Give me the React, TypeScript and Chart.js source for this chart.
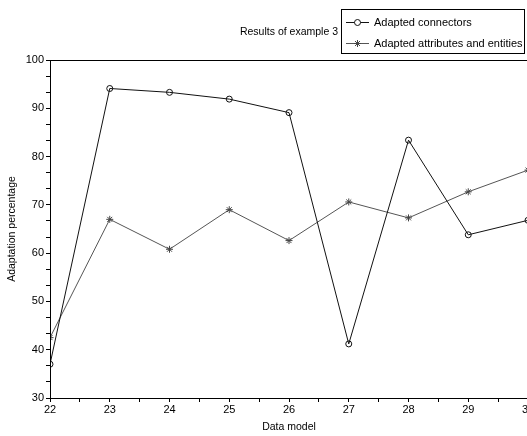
import React, { useEffect, useRef } from "react";
import { Chart, registerables } from "chart.js";

Chart.register(...registerables);

const chartTitle = "Results of example 3";
const xTitle = "Data model";
const yTitle = "Adaptation percentage";
const dataModels = [22, 23, 24, 25, 26, 27, 28, 29, 30];
const connectorsLabel = "Adapted connectors";
const connectors = [37.0, 94.1, 93.3, 91.9, 89.1, 41.2, 83.4, 63.8, 66.8];
const attributesLabel = "Adapted attributes and entities";
const attributes = [42.5, 67.0, 60.8, 69.0, 62.6, 70.6, 67.3, 72.7, 77.2];

const FONT = "'Liberation Sans', Arial, sans-serif";

const framePlugin = {
  id: "frameAndLegend",
  afterDraw(chart: any) {
    const ctx = chart.ctx;
    const a = chart.chartArea;
    ctx.save();
    ctx.strokeStyle = "#000";
    ctx.lineWidth = 1;
    ctx.strokeRect(Math.round(a.left) + 0.5, Math.round(a.top) + 0.5, Math.round(a.right - a.left), Math.round(a.bottom - a.top));

    // title
    ctx.fillStyle = "#000";
    ctx.font = "10.5px " + FONT;
    ctx.textAlign = "right";
    ctx.textBaseline = "middle";
    ctx.fillText(chartTitle, 338, 32);

    // legend box
    ctx.strokeRect(341.5, 9.5, 183, 44);
    const rows = [22, 43];
    chart.data.datasets.forEach((ds: any, i: number) => {
      const y = rows[i];
      ctx.strokeStyle = ds.borderColor;
      ctx.lineWidth = 1;
      ctx.beginPath();
      ctx.moveTo(346, y + 0.5);
      ctx.lineTo(369, y + 0.5);
      ctx.stroke();
      if (ds.pointStyle === "circle") {
        ctx.beginPath();
        ctx.arc(357.5, y + 0.5, 3, 0, Math.PI * 2);
        ctx.fillStyle = "#fff";
        ctx.fill();
        ctx.strokeStyle = ds.pointBorderColor;
        ctx.stroke();
      } else {
        const r = 3.5;
        ctx.strokeStyle = ds.pointBorderColor;
        ctx.beginPath();
        for (let k = 0; k < 4; k++) {
          const ang = (Math.PI / 4) * k;
          ctx.moveTo(357.5 - r * Math.cos(ang), y + 0.5 - r * Math.sin(ang));
          ctx.lineTo(357.5 + r * Math.cos(ang), y + 0.5 + r * Math.sin(ang));
        }
        ctx.stroke();
      }
      ctx.fillStyle = "#000";
      ctx.font = "11px " + FONT;
      ctx.textAlign = "left";
      ctx.textBaseline = "middle";
      ctx.fillText(ds.label, 374, y + 1);
    });
    ctx.restore();
  },
};

export default function App() {
  const ref = useRef<HTMLCanvasElement>(null);
  useEffect(() => {
    document.body.style.margin = "0";
    document.body.style.overflow = "hidden";
    const canvas = ref.current!;
    const chart = new Chart(canvas, {
      type: "line",
      data: {
        datasets: [
          {
            label: connectorsLabel,
            data: dataModels.map((x, i) => ({ x, y: connectors[i] })),
            borderColor: "#111",
            borderWidth: 1,
            pointStyle: "circle",
            pointRadius: 3,
            pointBorderColor: "#111",
            pointBackgroundColor: "rgba(255,255,255,0)",
            pointBorderWidth: 1,
            tension: 0,
          },
          {
            label: attributesLabel,
            data: dataModels.map((x, i) => ({ x, y: attributes[i] })),
            borderColor: "#555",
            borderWidth: 1,
            pointStyle: "star",
            pointRadius: 3.5,
            pointBorderColor: "#444",
            pointBackgroundColor: "#444",
            pointBorderWidth: 1,
            tension: 0,
          },
        ],
      },
      options: {
        responsive: false,
        animation: false,
        layout: { padding: { top: 60, right: 72, left: 0, bottom: 0 } },
        plugins: {
          legend: { display: false },
          title: { display: false },
          tooltip: { enabled: false },
        },
        scales: {
          x: {
            type: "linear",
            min: 22,
            max: 30,
            afterFit: (s: any) => {
              s.height = 38;
            },
            ticks: {
              stepSize: 0.5,
              autoSkip: false,
              maxRotation: 0,
              padding: 1,
              color: "#000",
              font: { family: FONT, size: 11 },
              callback: (v: any) => (Math.abs(v - Math.round(v)) < 1e-6 ? String(Math.round(v)) : ""),
            },
            grid: { drawOnChartArea: false, tickLength: 4, color: "#000" },
            border: { color: "#000", width: 1 },
            title: { display: true, text: xTitle, color: "#000", font: { family: FONT, size: 10.5 }, padding: { top: 2, bottom: 3 } },
          },
          y: {
            min: 30,
            max: 100,
            afterFit: (s: any) => {
              s.width = 50;
            },
            ticks: {
              stepSize: 10 / 3,
              autoSkip: false,
              padding: 2,
              color: "#000",
              font: { family: FONT, size: 11 },
              callback: (v: any) => {
                const r = Math.round(v);
                return Math.abs(v - r) < 1e-6 && r % 10 === 0 ? String(r) : "";
              },
            },
            grid: { drawOnChartArea: false, tickLength: 4, color: "#000" },
            border: { color: "#000", width: 1 },
            title: { display: true, text: yTitle, color: "#000", font: { family: FONT, size: 10.5 }, padding: { top: 6, bottom: 0 } },
          },
        },
      } as any,
      plugins: [framePlugin],
    });
    return () => chart.destroy();
  }, []);
  return (
    <div style={{ position: "fixed", left: 0, top: 0, width: 527, height: 436, overflow: "hidden", background: "#fff" }}>
      <canvas ref={ref} width={600} height={436} style={{ display: "block" }} />
    </div>
  );
}
